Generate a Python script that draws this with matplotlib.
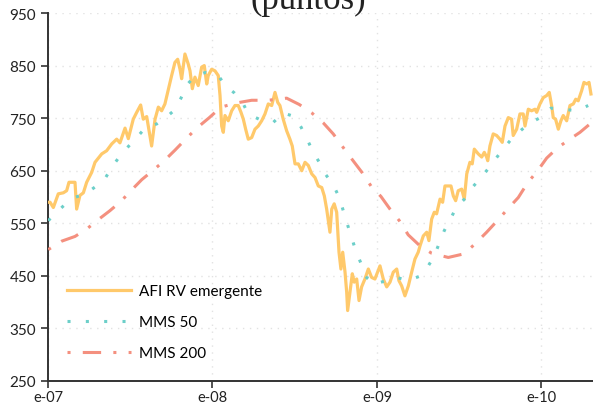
import matplotlib
matplotlib.use('Agg')
import matplotlib.pyplot as plt

# months since Jan 2007 and index level (puntos)
afi_m = [0.00, 0.15, 0.39, 0.75, 1.12, 1.36, 1.53, 1.97, 2.09, 2.33, 2.58, 2.82, 3.19, 3.43,
         3.92, 4.28, 4.65, 5.01, 5.25, 5.62, 5.86, 6.22, 6.47, 6.76, 6.95, 7.20, 7.56, 7.81,
         8.05, 8.29, 8.53, 8.78, 9.02, 9.26, 9.46, 9.63, 9.75, 9.99, 10.23, 10.36, 10.53, 10.72,
         10.96, 11.21, 11.40, 11.58, 11.69, 11.94, 12.18, 12.42, 12.55, 12.67, 12.79, 12.91,
         13.15, 13.40, 13.64, 13.88, 14.08, 14.25, 14.42, 14.61, 14.86, 15.10, 15.34, 15.59,
         15.83, 16.07, 16.32, 16.56, 16.76, 16.92, 17.16, 17.41, 17.65, 17.82, 18.02, 18.26,
         18.51, 18.75, 18.99, 19.24, 19.48, 19.72, 19.97, 20.16, 20.33, 20.57, 20.70, 20.88,
         21.06, 21.23, 21.37, 21.50, 21.67, 21.79, 21.86, 22.03, 22.20, 22.34, 22.52, 22.69,
         22.88, 23.12, 23.37, 23.61, 23.85, 24.09, 24.22, 24.46, 24.71, 24.95, 25.19, 25.44,
         25.60, 25.80, 26.04, 26.29, 26.53, 26.77, 27.01, 27.14, 27.38, 27.63, 27.79, 27.99,
         28.18, 28.35, 28.60, 28.79, 28.96, 29.20, 29.40, 29.57, 29.74, 29.93, 30.18, 30.37,
         30.55, 30.78, 30.95, 31.10, 31.39, 31.64, 31.83, 32.00, 32.08, 32.24, 32.48, 32.73,
         32.97, 33.14, 33.34, 33.58, 33.82, 33.94, 34.19, 34.43, 34.67, 34.80, 35.04, 35.28,
         35.53, 35.65, 35.89, 36.13, 36.38, 36.57, 36.74, 36.86, 37.03, 37.23, 37.42, 37.59,
         37.84, 38.08, 38.32, 38.50, 38.68, 38.93, 39.10, 39.30, 39.47, 39.61]
afi = [590, 590, 580, 606, 608, 612, 628, 628, 577, 603, 608, 628, 647, 666,
       682, 688, 701, 710, 703, 731, 711, 748, 761, 775, 748, 753, 697, 748,
       771, 764, 777, 805, 831, 856, 862, 843, 825, 872, 853, 840, 806, 828,
       812, 847, 850, 815, 831, 843, 840, 831, 793, 735, 723, 755,
       745, 764, 774, 774, 761, 748, 729, 710, 713, 729, 735, 745,
       758, 777, 774, 799, 780, 774, 748, 726, 710, 697, 663, 663,
       650, 666, 660, 644, 637, 621, 618, 602, 577, 533, 577, 587,
       571, 495, 463, 495, 457, 419, 384, 419, 454, 438, 444, 403,
       429, 444, 463, 447, 444, 460, 469, 444, 429, 438, 457, 463,
       441, 431, 412, 431, 457, 482, 495, 507, 526, 533, 517, 558,
       571, 568, 596, 590, 621, 621, 621, 602, 593, 612, 615, 596,
       644, 666, 663, 691, 682, 676, 685, 676, 669, 697, 720, 717,
       710, 704, 735, 751, 748, 717, 729, 758, 758, 735, 767, 764,
       767, 761, 777, 789, 793, 799, 774, 751, 748, 729, 745, 755,
       745, 774, 777, 786, 783, 802, 818, 815, 818, 796]

mms50_m = [0.02, 0.63, 1.29, 1.92, 2.75, 3.48, 4.16, 4.69, 5.25, 5.86, 6.47, 7.08, 7.93, 8.59,
           9.26, 9.70, 10.12, 10.72, 11.50, 12.42, 12.91, 13.59, 14.17, 14.61, 15.47, 16.44,
           17.16, 17.97, 18.46, 18.92, 19.35, 19.84, 20.28, 20.81, 21.25, 21.54, 21.83, 22.15,
           22.45, 22.83, 23.15, 23.80, 24.68, 25.44, 26.26, 27.09, 27.67, 28.17, 28.54, 28.91,
           29.38, 29.78, 30.42, 30.95, 31.59, 32.12, 32.73, 33.29, 33.90, 34.60, 35.33, 36.06,
           36.69, 37.59, 38.57, 39.41]
mms50 = [555, 571, 587, 599, 606, 620, 635, 658, 678, 696, 713, 731, 739, 751,
         766, 788, 813, 830, 837, 831, 813, 798, 781, 758, 747, 742,
         760, 753, 733, 709, 685, 664, 642, 623, 599, 574, 549, 523,
         498, 474, 449, 434, 441, 447, 441, 449, 466, 487, 512, 536,
         559, 580, 597, 618, 637, 654, 675, 694, 713, 729, 743, 753,
         769, 767, 764, 774]

mms200_m = [0.02, 1.00, 1.97, 2.82, 3.67, 4.52, 5.33, 6.05, 6.84, 7.68, 8.48, 9.26, 10.04,
            10.85, 11.77, 12.62, 13.77, 14.86, 16.07, 17.41, 18.33, 19.24, 20.08, 20.81,
            21.54, 22.20, 22.93, 23.56, 24.29, 24.95, 25.63, 26.28, 27.14, 27.99, 29.20,
            30.37, 31.20, 32.00, 32.78, 33.53, 34.31, 34.99, 35.72, 36.38, 37.15, 38.01,
            38.81, 39.54]
mms200 = [500, 516, 525, 539, 557, 574, 592, 612, 633, 651, 669, 689, 710,
          731, 751, 771, 779, 784, 784, 788, 776, 760, 741, 720,
          694, 671, 646, 621, 601, 577, 555, 528, 507, 493, 485,
          492, 512, 533, 555, 577, 599, 627, 650, 674, 693, 709,
          723, 739]

xtick_pos = [0, 12, 24, 36]
xtick_labels = ['e-07', 'e-08', 'e-09', 'e-10']
ytick_pos = [250, 350, 450, 550, 650, 750, 850, 950]

plt.rcParams['font.family'] = ['Lato', 'DejaVu Sans']

fig = plt.figure(figsize=(5.93, 4.06), dpi=100)
ax = fig.add_axes([48 / 593, 1 - 382 / 406, 1 - 48 / 593, (382 - 14) / 406])

ax.plot(afi_m, afi, color='#ffc96b', lw=2.3, label='AFI RV emergente', zorder=3)
ax.plot(mms50_m, mms50, color='#6ccfc9', lw=2.2, linestyle=(0, (1, 5)),
        label='MMS 50', zorder=4)
ax.plot(mms200_m, mms200, color='#f4907f', lw=2.2, linestyle=(0, (1, 4, 6, 4)),
        label='MMS 200', zorder=4)

ax.set_xlim(0, 39.76)
ax.set_ylim(250, 950)
ax.set_xticks(xtick_pos)
ax.set_xticklabels(xtick_labels)
ax.set_yticks(ytick_pos)

ax.grid(True, color='#e2e2e2', linestyle=(0, (1, 4)), lw=1.0)
ax.set_axisbelow(True)
for s in ['top', 'right']:
    ax.spines[s].set_visible(False)
for s in ['left', 'bottom']:
    ax.spines[s].set_color('#333333')
    ax.spines[s].set_linewidth(1.4)
ax.tick_params(axis='both', colors='#333333', labelcolor='#222222', labelsize=11,
               length=5, width=1.2)
ax.tick_params(axis='x', pad=1.5, labelsize=10.5)

leg = ax.legend(loc='upper left', bbox_to_anchor=(0.01, 0.30), frameon=False,
                fontsize=11, handlelength=4.2, labelspacing=1.1, handletextpad=0.5)

fig.text(0.52, 0.978, '(puntos)', ha='center', va='baseline',
         family='Liberation Serif', fontsize=25, color='#222222')

fig.savefig('out.png', dpi=100)
